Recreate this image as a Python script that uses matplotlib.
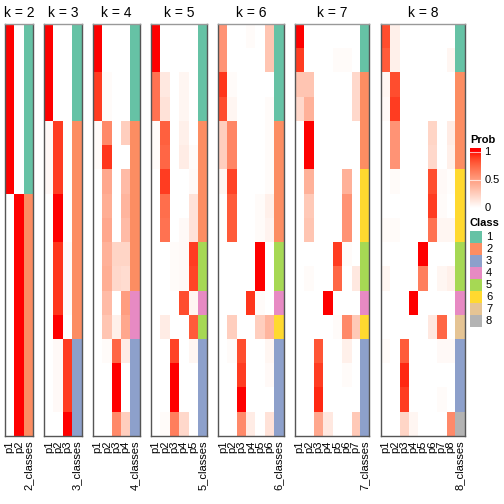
import numpy as np
import matplotlib
matplotlib.use("Agg")
import matplotlib.pyplot as plt
from matplotlib.colors import ListedColormap

plt.rcParams['font.family'] = ['Liberation Sans', 'DejaVu Sans']

# === membership probabilities (rows = samples, cols = p1..pk) and class labels ===
prob_k2 = [[1, 0]] * 7 + [[0, 1]] * 10
class_k2 = [1, 1, 1, 1, 1, 1, 1, 2, 2, 2, 2, 2, 2, 2, 2, 2, 2]

prob_k3 = [
    [1, 0, 0], [1, 0, 0], [1, 0, 0], [1, 0, 0],
    [0.03, 0.9, 0], [0.03, 0.9, 0], [0.03, 0.9, 0],
    [0, 1, 0], [0, 1, 0],
    [0, 0.92, 0.02], [0, 0.92, 0.02], [0, 0.92, 0.02],
    [0, 1, 0],
    [0, 0.03, 0.9], [0, 0.03, 0.9], [0, 0.03, 0.9],
    [0, 0, 1],
]
class_k3 = [1, 1, 1, 1, 2, 2, 2, 2, 2, 2, 2, 2, 2, 3, 3, 3, 3]

prob_k4 = [
    [1, 0, 0, 0], [1, 0, 0, 0],
    [0.9, 0.02, 0, 0], [0.9, 0.02, 0, 0],
    [0.02, 0.6, 0, 0.25],
    [0.02, 0.92, 0, 0],
    [0, 0.45, 0, 0.35], [0, 0.42, 0, 0.38], [0, 0.45, 0, 0.35],
    [0, 0.4, 0.22, 0.22], [0, 0.42, 0.2, 0.18],
    [0, 0.35, 0, 0.5], [0, 0.3, 0.08, 0.45],
    [0, 0.02, 0.75, 0.1],
    [0, 0, 1, 0], [0, 0, 1, 0],
    [0, 0, 0.6, 0.25],
]
class_k4 = [1, 1, 1, 1, 2, 2, 2, 2, 2, 2, 2, 4, 4, 3, 3, 3, 3]

prob_k5 = [
    [1, 0, 0, 0, 0], [1, 0, 0, 0, 0],
    [0.7, 0.12, 0, 0.05, 0], [0.7, 0.15, 0, 0.05, 0],
    [0.02, 0.78, 0, 0.08, 0], [0.02, 0.75, 0, 0.1, 0.02],
    [0, 0.9, 0, 0, 0.03],
    [0, 0.72, 0, 0, 0.15], [0, 0.7, 0, 0.03, 0.15],
    [0, 0, 0.02, 0.03, 0.9], [0, 0, 0.02, 0.03, 0.88],
    [0, 0, 0, 0.85, 0.05],
    [0, 0.1, 0, 0, 0.8],
    [0, 0, 0.88, 0, 0.05],
    [0, 0, 1, 0, 0], [0, 0, 1, 0, 0],
    [0, 0.02, 0.65, 0.2, 0],
]
class_k5 = [1, 1, 1, 1, 2, 2, 2, 2, 2, 5, 5, 4, 5, 3, 3, 3, 3]

prob_k6 = [
    [0.55, 0, 0, 0.02, 0, 0.3], [0.55, 0, 0, 0, 0, 0.3],
    [0.92, 0.02, 0, 0, 0, 0], [0.85, 0.05, 0, 0, 0, 0.02],
    [0.25, 0.62, 0, 0, 0, 0.02], [0.25, 0.62, 0, 0, 0, 0.02],
    [0.05, 0.88, 0, 0, 0, 0.02],
    [0, 0.8, 0, 0, 0.02, 0.08], [0, 0.8, 0, 0, 0.02, 0.06],
    [0, 0, 0, 0, 1, 0], [0, 0, 0, 0, 1, 0],
    [0, 0, 0, 0.92, 0.02, 0],
    [0, 0.25, 0, 0, 0.25, 0.38],
    [0, 0.02, 0.85, 0, 0, 0.05], [0, 0, 0.9, 0, 0, 0.03],
    [0, 0, 1, 0, 0, 0],
    [0, 0, 0.6, 0.1, 0, 0.15],
]
class_k6 = [1, 1, 1, 1, 2, 2, 2, 2, 2, 5, 5, 4, 6, 3, 3, 3, 3]

prob_k7 = [
    [1, 0, 0, 0, 0, 0, 0], [0.9, 0, 0, 0, 0.02, 0.02, 0],
    [0.3, 0.3, 0, 0, 0, 0, 0.2], [0.2, 0.4, 0, 0, 0, 0, 0.2],
    [0, 1, 0, 0, 0, 0, 0], [0, 1, 0, 0, 0, 0, 0],
    [0, 0.4, 0, 0, 0, 0.4, 0], [0, 0.28, 0, 0, 0, 0.55, 0],
    [0, 0.3, 0, 0, 0, 0.55, 0],
    [0, 0, 0, 0, 0.9, 0.02, 0], [0, 0.02, 0, 0, 0.75, 0, 0.12],
    [0, 0, 0, 1, 0, 0, 0],
    [0, 0, 0, 0, 0.02, 0.6, 0.28],
    [0, 0, 0.82, 0, 0, 0.08, 0], [0, 0, 0.9, 0, 0, 0.02, 0],
    [0, 0, 0.95, 0, 0, 0, 0],
    [0, 0, 0.45, 0.12, 0, 0, 0.28],
]
class_k7 = [1, 1, 2, 2, 2, 2, 6, 6, 6, 5, 5, 4, 6, 3, 3, 3, 3]

prob_k8 = [
    [0.85, 0.08, 0, 0, 0, 0, 0, 0], [0.8, 0.08, 0, 0, 0, 0, 0, 0.05],
    [0.05, 0.85, 0, 0, 0, 0, 0, 0], [0.03, 0.9, 0, 0, 0, 0, 0, 0],
    [0, 0.55, 0, 0, 0, 0.22, 0, 0.1], [0, 0.55, 0, 0, 0, 0.2, 0, 0.08],
    [0, 0.02, 0, 0, 0, 0.85, 0.03, 0.01], [0, 0, 0, 0, 0, 0.9, 0.02, 0],
    [0.02, 0.02, 0, 0, 0, 0.7, 0.05, 0.05],
    [0, 0, 0, 0, 1, 0, 0, 0], [0.05, 0, 0, 0, 0.65, 0, 0.05, 0.08],
    [0, 0, 0, 1, 0, 0, 0, 0],
    [0, 0, 0, 0, 0, 0.12, 0.75, 0],
    [0.02, 0, 0.8, 0, 0, 0, 0.03, 0.03], [0, 0, 0.95, 0, 0, 0, 0, 0],
    [0, 0, 0.9, 0, 0, 0, 0.02, 0],
    [0, 0, 0.22, 0.05, 0, 0, 0, 0.6],
]
class_k8 = [1, 1, 2, 2, 2, 2, 6, 6, 6, 5, 5, 4, 7, 3, 3, 3, 8]

ks = [2, 3, 4, 5, 6, 7, 8]
probs = [prob_k2, prob_k3, prob_k4, prob_k5, prob_k6, prob_k7, prob_k8]
classes = [class_k2, class_k3, class_k4, class_k5, class_k6, class_k7, class_k8]

class_colors = ["#66C2A5", "#FC8D62", "#8DA0CB", "#E78AC3",
                "#A6D854", "#FFD92F", "#E5C494", "#B3B3B3"]


# === white -> red colour ramp interpolated in LAB space (like colorRamp2) ===
def srgb_to_lab(c):
    c = np.asarray(c, dtype=float)
    lin = np.where(c <= 0.04045, c / 12.92, ((c + 0.055) / 1.055) ** 2.4)
    M = np.array([[0.4124, 0.3576, 0.1805],
                  [0.2126, 0.7152, 0.0722],
                  [0.0193, 0.1192, 0.9505]])
    xyz = M @ lin / np.array([0.95047, 1.0, 1.08883])
    f = np.where(xyz > 0.008856, np.cbrt(xyz), 7.787 * xyz + 16 / 116)
    return np.array([116 * f[1] - 16, 500 * (f[0] - f[1]), 200 * (f[1] - f[2])])


def lab_to_srgb(lab):
    L, a, b = lab
    fy = (L + 16) / 116
    fx = fy + a / 500
    fz = fy - b / 200
    f = np.array([fx, fy, fz])
    xyz = np.where(f ** 3 > 0.008856, f ** 3, (f - 16 / 116) / 7.787)
    xyz = xyz * np.array([0.95047, 1.0, 1.08883])
    Minv = np.array([[3.2406, -1.5372, -0.4986],
                     [-0.9689, 1.8758, 0.0415],
                     [0.0557, -0.2040, 1.0570]])
    lin = Minv @ xyz
    c = np.where(lin <= 0.0031308, 12.92 * lin, 1.055 * np.clip(lin, 0, None) ** (1 / 2.4) - 0.055)
    return np.clip(c, 0, 1)


lab_w = srgb_to_lab([1, 1, 1])
lab_r = srgb_to_lab([1, 0, 0])
ramp = [lab_to_srgb(lab_w + t * (lab_r - lab_w)) for t in np.linspace(0, 1, 256)]
prob_cmap = ListedColormap(ramp)
class_cmap = ListedColormap(class_colors)

# === layout in pixels ===
W = H = 504
fig = plt.figure(figsize=(W / 100, H / 100), dpi=100)


def px_axes(x0, y0, w, h):
    return fig.add_axes([x0 / W, 1 - (y0 + h) / H, w / W, h / H])


col_w = 9.3
gap = 11.5
top, bottom = 24, 436
x = 5
n_rows = len(class_k2)
for k, p, cl in zip(ks, probs, classes):
    ncol = k + 1
    ax = px_axes(x, top, ncol * col_w, bottom - top)
    ax.imshow(np.array(p, dtype=float), cmap=prob_cmap, vmin=0, vmax=1,
              extent=(0, k, n_rows, 0), aspect='auto', interpolation='nearest')
    ax.imshow(np.array(cl)[:, None], cmap=class_cmap, vmin=0.5, vmax=8.5,
              extent=(k, k + 1, n_rows, 0), aspect='auto', interpolation='nearest')
    ax.set_xlim(0, k + 1)
    ax.set_ylim(n_rows, 0)
    ax.set_yticks([])
    ax.set_xticks(np.arange(ncol) + 0.5)
    ax.set_xticklabels([f"p{i + 1}" for i in range(k)] + [f"{k}_classes"],
                       rotation=90, fontsize=8, va='top', ha='center')
    ax.tick_params(axis='x', length=0, pad=3)
    for s in ax.spines.values():
        s.set_color('#555555')
        s.set_linewidth(1)
    ax.spines['top'].set_color('#999999')
    ax.set_title(f"k = {k}", fontsize=10, pad=5)
    x += ncol * col_w + gap

# === legends ===
fig.text(470 / W, 1 - 140 / H, "Prob", fontsize=8, fontweight='bold', va='center')
cax = px_axes(470, 148, 11, 63)
grad = np.linspace(1.07, -0.054, 200)[:, None]
cax.imshow(grad, cmap=prob_cmap, vmin=0, vmax=1, extent=(0, 1, -0.054, 1.07), aspect='auto')
cax.set_xlim(0, 1)
cax.set_ylim(-0.054, 1.07)
cax.axis('off')
for v in [1, 0.5]:
    cax.plot([0, 1], [v, v], color='white', lw=0.8, alpha=0.7)
for v, lab in [(1, "1"), (0.5, "0.5"), (0, "0")]:
    cax.text(1.3, v, lab, fontsize=8, va='center', ha='left', transform=cax.transData)

fig.text(470 / W, 1 - 223 / H, "Class", fontsize=8, fontweight='bold', va='center')
for i, c in enumerate(class_colors):
    y0 = 231 + i * 12
    lax = px_axes(470, y0, 12, 12)
    lax.add_patch(plt.Rectangle((0, 0), 1, 1, color=c))
    lax.set_xlim(0, 1)
    lax.set_ylim(0, 1)
    lax.axis('off')
    fig.text(486 / W, 1 - (y0 + 6) / H, str(i + 1), fontsize=8, va='center')

fig.savefig("out.png", dpi=100)
